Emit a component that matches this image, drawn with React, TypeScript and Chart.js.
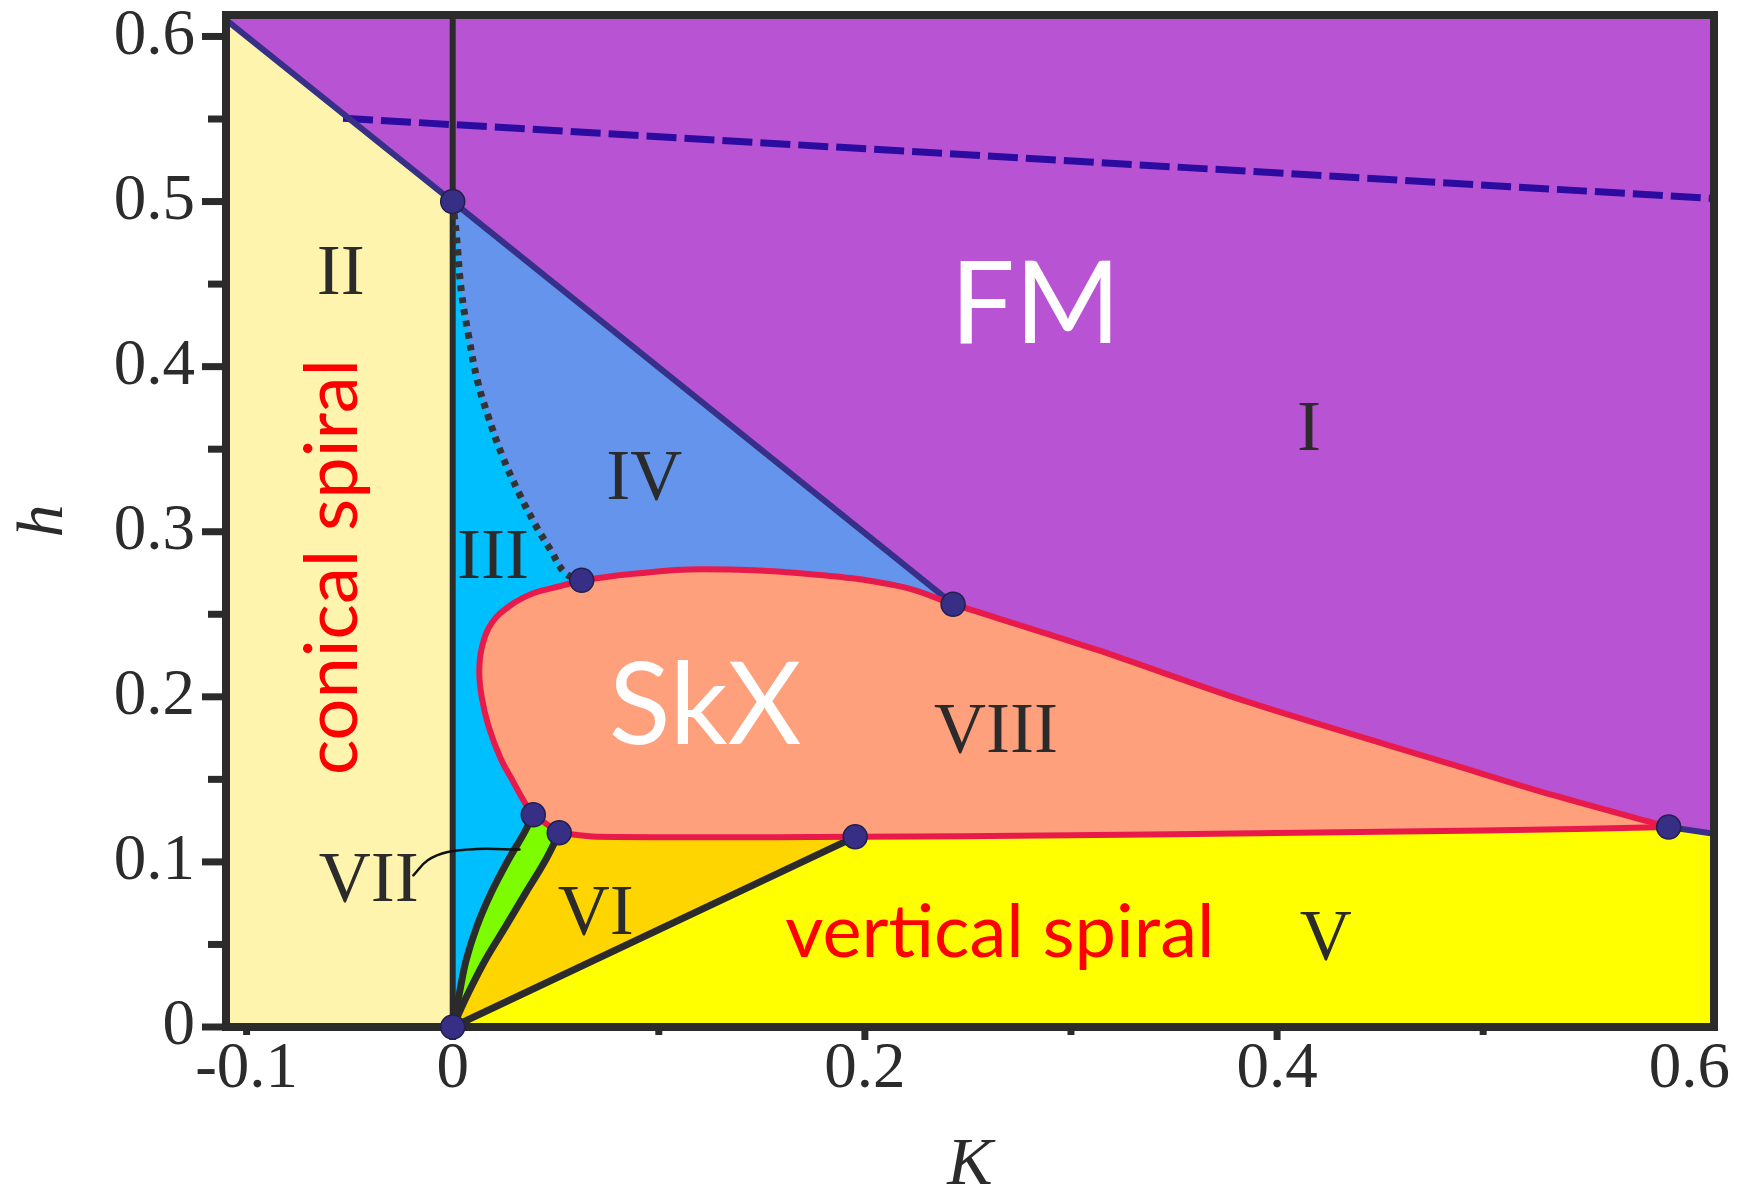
import React, { useEffect, useRef } from "react";
import { Chart, registerables } from "chart.js";

Chart.register(...registerables);

// ---------------- axes ----------------
const K_MIN = -0.11;
const K_MAX = 0.612;
const H_MIN = 0;
const H_MAX = 0.613;
const K_TICKS = [-0.1, 0, 0.1, 0.2, 0.3, 0.4, 0.5, 0.6];
const K_TICK_LABELS = ["-0.1", "0", "", "0.2", "", "0.4", "", "0.6"];
const K_MAJOR_MARKS = [0, 0.2, 0.4];
const K_MINOR_MARKS = [-0.1, 0.1, 0.3, 0.5];
const H_TICKS = [0, 0.1, 0.2, 0.3, 0.4, 0.5, 0.6];
const H_TICK_LABELS = ["0", "0.1", "0.2", "0.3", "0.4", "0.5", "0.6"];
const H_MINOR_MARKS = [0.05, 0.15, 0.25, 0.35, 0.45, 0.55];

// ---------------- phase boundaries (K, h) ----------------
const FM_II_K = [-0.11, 0];
const FM_II_H = [0.61, 0.5];
const FM_IV_K = [0, 0.2428];
const FM_IV_H = [0.5, 0.2561];
const FM_SKX_K = [0.2428, 0.312, 0.385, 0.486, 0.534, 0.59];
const FM_SKX_H = [0.2561, 0.2287, 0.1972, 0.1586, 0.1404, 0.1211];
const FM_V_K = [0.59, 0.612];
const FM_V_H = [0.1211, 0.117];
const DASHED_K = [-0.0532, 0.612];
const DASHED_H = [0.5505, 0.5018];
const K0_LINE_K = [0, 0];
const K0_LINE_H = [0, 0.613];
const DOTTED_K = [0, 0.0017, 0.0042, 0.0077, 0.012, 0.0172, 0.0242, 0.032, 0.0398, 0.0476, 0.0545, 0.0626];
const DOTTED_H = [0.5, 0.4808, 0.4457, 0.4186, 0.3915, 0.3699, 0.3455, 0.3238, 0.3049, 0.2887, 0.2751, 0.2706];
const SKX_TOP_K = [0.0626, 0.0877, 0.12, 0.1686, 0.2171, 0.2428];
const SKX_TOP_H = [0.2706, 0.2745, 0.2772, 0.2749, 0.2669, 0.2561];
const SKX_LEFT_K = [0.0626, 0.0521, 0.0391, 0.0278, 0.0189, 0.0141, 0.0129, 0.0141, 0.0173, 0.023, 0.0294, 0.0351, 0.0391];
const SKX_LEFT_H = [0.2706, 0.267, 0.2627, 0.2552, 0.2446, 0.2296, 0.2147, 0.1997, 0.1826, 0.1634, 0.1485, 0.1357, 0.1286];
const SKX_VII_K = [0.0391, 0.0517];
const SKX_VII_H = [0.1286, 0.1176];
const SKX_VI_K = [0.0517, 0.07, 0.1953];
const SKX_VI_H = [0.1176, 0.1152, 0.1152];
const SKX_V_K = [0.1953, 0.3, 0.4, 0.5, 0.59];
const SKX_V_H = [0.1152, 0.1162, 0.1175, 0.119, 0.1211];
const VII_LEFT_K = [0, 0.0032, 0.0065, 0.0116, 0.0185, 0.0269, 0.0344, 0.0391];
const VII_LEFT_H = [0, 0.0201, 0.0403, 0.0605, 0.0808, 0.101, 0.117, 0.1286];
const VII_RIGHT_K = [0, 0.0074, 0.0157, 0.0255, 0.0352, 0.045, 0.0517];
const VII_RIGHT_H = [0, 0.0201, 0.0403, 0.0605, 0.0808, 0.101, 0.1176];
const VI_V_K = [0, 0.1953];
const VI_V_H = [0, 0.1152];
const POINTER_K = [-0.0191, -0.0121, -0.0024, 0.0116, 0.0324];
const POINTER_H = [0.0919, 0.101, 0.106, 0.1078, 0.1075];
const NODE_K = [0, 0.0626, 0.2428, 0.59, 0.0391, 0.0517, 0.1953, 0];
const NODE_H = [0.5, 0.2706, 0.2561, 0.1211, 0.1286, 0.1176, 0.1152, 0];

// ---------------- text annotations ----------------
const SERIF = "'Liberation Serif', 'Times New Roman', serif";
const SANS = "Lato, 'Noto Sans', sans-serif";
const ANNOTATIONS = [
  { text: "FM", k: 0.2827, h: 0.4142, font: `114px ${SANS}`, color: "#ffffff", rot: 0 },
  { text: "SkX", k: 0.1225, h: 0.1712, font: `114px ${SANS}`, color: "#ffffff", rot: 0 },
  { text: "conical spiral", k: -0.0465, h: 0.2786, font: `74px ${SANS}`, color: "#ff0000", rot: -90 },
  { text: "vertical spiral", k: 0.2655, h: 0.0425, font: `74px ${SANS}`, color: "#ff0000", rot: 0 },
  { text: "I", k: 0.4155, h: 0.3496, font: `72px ${SERIF}`, color: "#2b2b2b", rot: 0 },
  { text: "II", k: -0.0543, h: 0.4438, font: `72px ${SERIF}`, color: "#2b2b2b", rot: 0 },
  { text: "III", k: 0.0195, h: 0.2718, font: `72px ${SERIF}`, color: "#2b2b2b", rot: 0 },
  { text: "IV", k: 0.0929, h: 0.3199, font: `72px ${SERIF}`, color: "#2b2b2b", rot: 0 },
  { text: "V", k: 0.4236, h: 0.0412, font: `72px ${SERIF}`, color: "#2b2b2b", rot: 0 },
  { text: "VI", k: 0.0694, h: 0.0565, font: `72px ${SERIF}`, color: "#2b2b2b", rot: 0 },
  { text: "VII", k: -0.0407, h: 0.0762, font: `72px ${SERIF}`, color: "#2b2b2b", rot: 0 },
  { text: "VIII", k: 0.2636, h: 0.1668, font: `72px ${SERIF}`, color: "#2b2b2b", rot: 0 },
];

// ---------------- colours ----------------
const AXIS_COLOR = "#2b2b2b";
const C_FM = "#b853d4";
const C_II = "#fef4ae";
const C_III = "#00bfff";
const C_IV = "#6494eb";
const C_SKX = "#fea07c";
const C_V = "#ffff00";
const C_VI = "#ffd500";
const C_VII = "#7dfc00";
const C_BLUE_LINE = "#363089";
const C_RED_LINE = "#e81a4b";
const C_DASH = "#2c0ca0";
const C_NODE = "#372f86";

type P = { x: number; y: number };
const pts = (K: number[], H: number[]): P[] => K.map((k, i) => ({ x: k, y: H[i] }));
const rev = (a: P[]): P[] => a.slice().reverse();

function buildDatasets() {
  const fmArea = pts([K_MIN, K_MAX, K_MAX, K_MIN], [H_MIN, H_MIN, H_MAX, H_MAX]);
  const iiArea = [...pts(FM_II_K, FM_II_H), { x: 0, y: 0 }, { x: K_MIN, y: 0 }];
  const iiiArea = [{ x: 0, y: 0 }, ...pts(FM_IV_K, FM_IV_H), { x: FM_IV_K[1], y: 0 }];
  const ivArea = [...pts(DOTTED_K, DOTTED_H), ...pts(SKX_TOP_K, SKX_TOP_H).slice(1)];
  const skxArea = [
    ...pts(SKX_TOP_K, SKX_TOP_H),
    ...pts(FM_SKX_K, FM_SKX_H).slice(1),
    ...rev(pts(SKX_V_K, SKX_V_H)).slice(1),
    ...rev(pts(SKX_VI_K, SKX_VI_H)).slice(1),
    ...rev(pts(SKX_VII_K, SKX_VII_H)).slice(1),
    ...rev(pts(SKX_LEFT_K, SKX_LEFT_H)).slice(1),
  ];
  const vArea = [
    ...pts(VI_V_K, VI_V_H),
    ...pts(SKX_V_K, SKX_V_H).slice(1),
    ...pts(FM_V_K, FM_V_H).slice(1),
    { x: K_MAX, y: 0 },
  ];
  const viArea = [...pts(VII_RIGHT_K, VII_RIGHT_H), ...pts(SKX_VI_K, SKX_VI_H).slice(1)];
  const viiArea = [
    ...pts(VII_LEFT_K, VII_LEFT_H),
    ...pts(SKX_VII_K, SKX_VII_H).slice(1),
    ...rev(pts(VII_RIGHT_K, VII_RIGHT_H)).slice(1),
  ];

  const poly = (label: string, data: P[], color: string) => ({
    label, data, showLine: true, fill: "shape", backgroundColor: color,
    borderColor: "rgba(0,0,0,0)", borderWidth: 0, pointRadius: 0, tension: 0,
  });
  const stroke = (label: string, data: P[], color: string, width: number, tension = 0, dash: number[] = []) => ({
    label, data, showLine: true, fill: false, borderColor: color, borderWidth: width,
    pointRadius: 0, tension, borderDash: dash, borderCapStyle: dash.length ? "butt" : "round",
    borderJoinStyle: "round",
  });

  const list: any[] = [
    poly("FM", fmArea, C_FM),
    poly("II", iiArea, C_II),
    poly("III", iiiArea, C_III),
    poly("IV", ivArea, C_IV),
    poly("SkX", skxArea, C_SKX),
    poly("V", vArea, C_V),
    poly("VI", viArea, C_VI),
    poly("VII", viiArea, C_VII),
    stroke("dashed", pts(DASHED_K, DASHED_H), C_DASH, 7, 0, [30, 8]),
    stroke("K0", pts(K0_LINE_K, K0_LINE_H), AXIS_COLOR, 6),
    stroke("dotted", pts(DOTTED_K, DOTTED_H), "#333333", 7, 0.4, [6, 6]),
    stroke("fm-ii", pts(FM_II_K, FM_II_H), C_BLUE_LINE, 6),
    stroke("fm-iv", pts(FM_IV_K, FM_IV_H), C_BLUE_LINE, 6),
    stroke("fm-v", pts(FM_V_K, FM_V_H), C_BLUE_LINE, 6),
    stroke("vii-left", pts(VII_LEFT_K, VII_LEFT_H), AXIS_COLOR, 7, 0.4),
    stroke("vii-right", pts(VII_RIGHT_K, VII_RIGHT_H), AXIS_COLOR, 7, 0.4),
    stroke("vi-v", pts(VI_V_K, VI_V_H), AXIS_COLOR, 7),
    stroke("fm-skx", pts(FM_SKX_K, FM_SKX_H), C_RED_LINE, 6, 0.3),
    stroke("skx-top", pts(SKX_TOP_K, SKX_TOP_H), C_RED_LINE, 6, 0.4),
    stroke("skx-left", pts(SKX_LEFT_K, SKX_LEFT_H), C_RED_LINE, 6, 0.4),
    stroke("skx-vii", pts(SKX_VII_K, SKX_VII_H), C_RED_LINE, 6),
    stroke("skx-bottom", [...pts(SKX_VI_K, SKX_VI_H), ...pts(SKX_V_K, SKX_V_H).slice(1)], C_RED_LINE, 6, 0.3),
    stroke("pointer", pts(POINTER_K, POINTER_H), "#111111", 2.5, 0.4),
    {
      label: "points", data: pts(NODE_K, NODE_H), showLine: false, pointRadius: 12,
      pointBackgroundColor: C_NODE, pointBorderColor: "#20204a", pointBorderWidth: 1.5, clip: false,
    },
  ];
  const n = list.length;
  list.forEach((d, i) => { d.order = n - i; });
  return list;
}

const decorPlugin = {
  id: "decor",
  beforeDatasetDraw(chart: any, args: any) {
    const ds = chart.data.datasets[args.index];
    if (ds.label !== "points") return;
    const { ctx, chartArea: a, scales } = chart;
    const x = scales.x, y = scales.y;
    ctx.save();
    // texts
    for (const t of ANNOTATIONS) {
      const px = x.getPixelForValue(t.k);
      const py = y.getPixelForValue(t.h);
      ctx.save();
      ctx.font = t.font;
      ctx.fillStyle = t.color;
      ctx.textAlign = "center";
      ctx.textBaseline = "alphabetic";
      ctx.translate(px, py);
      if (t.rot) ctx.rotate((t.rot * Math.PI) / 180);
      ctx.fillText(t.text, 0, 0);
      ctx.restore();
    }
    // frame
    ctx.strokeStyle = AXIS_COLOR;
    ctx.lineWidth = 8;
    ctx.strokeRect(a.left, a.top, a.right - a.left, a.bottom - a.top);
    // tick marks
    ctx.lineWidth = 7;
    ctx.lineCap = "butt";
    const seg = (x1: number, y1: number, x2: number, y2: number) => {
      ctx.beginPath(); ctx.moveTo(x1, y1); ctx.lineTo(x2, y2); ctx.stroke();
    };
    H_TICKS.forEach((v) => { const p = y.getPixelForValue(v); seg(a.left - 24, p, a.left, p); });
    H_MINOR_MARKS.forEach((v) => { const p = y.getPixelForValue(v); seg(a.left - 18, p, a.left, p); });
    K_MAJOR_MARKS.forEach((v) => { const p = x.getPixelForValue(v); seg(p, a.bottom, p, a.bottom + 13); });
    K_MINOR_MARKS.forEach((v) => { const p = x.getPixelForValue(v); seg(p, a.bottom, p, a.bottom + 8); });
    ctx.restore();
  },
};

export default function App() {
  const ref = useRef<HTMLCanvasElement | null>(null);
  useEffect(() => {
    if (!ref.current) return;
    const chart = new Chart(ref.current, {
      type: "scatter",
      data: { datasets: buildDatasets() },
      options: {
        animation: false,
        responsive: false,
        devicePixelRatio: 1,
        events: [],
        layout: { padding: { left: 0, top: 15, right: 50, bottom: 0 } },
        plugins: { legend: { display: false }, tooltip: { enabled: false } },
        scales: {
          x: {
            type: "linear",
            min: K_MIN,
            max: K_MAX,
            grid: { display: false, drawTicks: false },
            border: { display: false },
            afterBuildTicks: (s: any) => { s.ticks = K_TICKS.map((v) => ({ value: v })); },
            afterFit: (s: any) => { s.height = 165; s.paddingLeft = 0; s.paddingRight = 0; },
            ticks: {
              autoSkip: false, maxRotation: 0, minRotation: 0, padding: 4, color: AXIS_COLOR,
              font: { family: SERIF, size: 65 },
              callback: (_v: any, i: number) => K_TICK_LABELS[i],
            },
            title: {
              display: true, text: "K", color: AXIS_COLOR,
              font: { family: SERIF, size: 68, style: "italic", lineHeight: 0.75 },
              padding: { top: 0, bottom: 0 },
            },
          },
          y: {
            type: "linear",
            min: H_MIN,
            max: H_MAX,
            grid: { display: false, drawTicks: false },
            border: { display: false },
            afterBuildTicks: (s: any) => { s.ticks = H_TICKS.map((v) => ({ value: v })); },
            afterFit: (s: any) => { s.width = 226; s.paddingTop = 0; s.paddingBottom = 0; },
            ticks: {
              autoSkip: false, padding: 31, color: AXIS_COLOR,
              font: { family: SERIF, size: 65 },
              callback: (_v: any, i: number) => H_TICK_LABELS[i],
            },
            title: {
              display: true, text: "h", color: AXIS_COLOR,
              font: { family: SERIF, size: 66, style: "italic", lineHeight: 1 },
              padding: { top: 12, bottom: 0 },
            },
          },
        },
      },
      plugins: [decorPlugin],
    } as any);
    return () => chart.destroy();
  }, []);
  return (
    <div style={{ position: "fixed", left: 0, top: 0, width: 1764, height: 1192, background: "#ffffff" }}>
      <canvas ref={ref} width={1764} height={1192} style={{ width: 1764, height: 1192, display: "block" }} />
    </div>
  );
}
